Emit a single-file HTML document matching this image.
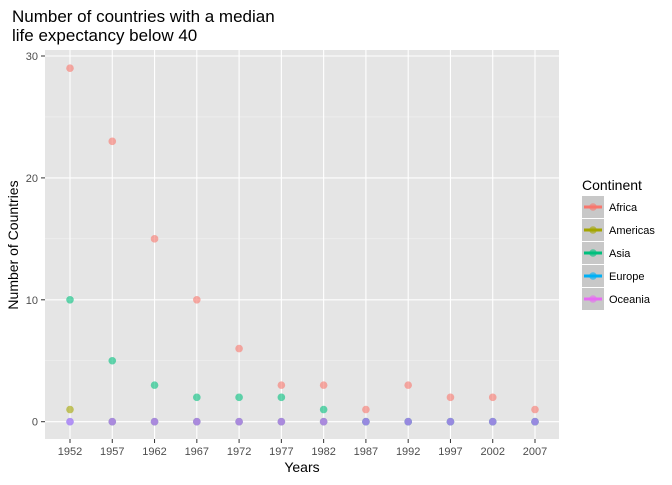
<!DOCTYPE html>
<html><head><meta charset="utf-8"><style>
body{margin:0;background:#fff;font-family:"Liberation Sans",Arial,sans-serif}
</style></head><body>
<svg width="672" height="480" xmlns="http://www.w3.org/2000/svg">
<text x="12" y="22" font-size="17" fill="#000">Number of countries with a median</text>
<text x="12" y="41" font-size="17" fill="#000">life expectancy below 40</text>
<rect x="45" y="50" width="514" height="389" fill="#e5e5e5"/>
<g id="grid"></g><g id="pts"></g><g id="axes"></g>
<text x="302" y="472" font-size="14" text-anchor="middle">Years</text>
<text transform="translate(18,245) rotate(-90)" font-size="14" text-anchor="middle">Number of Countries</text>
<g>
<text x="582" y="190" font-size="14">Continent</text>
<g id="leg"></g></g>
</svg>
<script>
const years=[1952,1957,1962,1967,1972,1977,1982,1987,1992,1997,2002,2007];
const continents=["Africa","Americas","Asia","Europe","Oceania"];
const colors=["#F8766D","#A3A500","#00BF7D","#00B0F6","#E76BF3"];
const africa=[29,23,15,10,6,3,3,1,3,2,2,1];
const americas=[1,0,0,0,0,0,0,0,0,0,0,0];
const asia=[10,5,3,2,2,2,1,0,0,0,0,0];
const europe=[0,0,0,0,0,0,0,0,0,0,0,0];
const oceania=[0,0,0,0,0,0,0,0,0,0,0,0];
const yTicks=[0,10,20,30];
const series=[africa,americas,asia,europe,oceania];
const NS="http://www.w3.org/2000/svg";
const X=y=>70+(y-1952)*(465/55);
const Y=v=>421.7-v*12.19;
function mk(t,a,p){const e=document.createElementNS(NS,t);for(const k in a)e.setAttribute(k,a[k]);p.appendChild(e);return e;}
const g=document.getElementById('grid'),ax=document.getElementById('axes'),pts=document.getElementById('pts');
[5,15,25].forEach(v=>{const l=mk('line',{x1:45,x2:559,y1:Y(v),y2:Y(v),stroke:'#f2f2f2','stroke-width':0.6},g);

});
yTicks.forEach(v=>{const l=mk('line',{x1:45,x2:559,y1:Y(v),y2:Y(v),stroke:'#fff','stroke-width':1.1},g);


mk('line',{x1:41,x2:45,y1:Y(v),y2:Y(v),stroke:'#333'},ax);
const t=mk('text',{x:38,y:Y(v)+4,'font-size':11,'text-anchor':'end',fill:'#4d4d4d'},ax);t.textContent=v;

});
years.forEach(yr=>{const l=mk('line',{x1:X(yr),x2:X(yr),y1:50,y2:439,stroke:'#fff','stroke-width':1.1},g);


mk('line',{x1:X(yr),x2:X(yr),y1:439,y2:443,stroke:'#333'},ax);
const t=mk('text',{x:X(yr),y:455,'font-size':11,'text-anchor':'middle',fill:'#4d4d4d'},ax);t.textContent=yr;

});
series.forEach((s,i)=>s.forEach((v,j)=>{const c=mk('circle',{cx:X(years[j]),cy:Y(v),r:3.8,fill:colors[i],'fill-opacity':0.6},pts);

}));
const lg=document.getElementById('leg');
continents.forEach((c,i)=>{const y0=196+i*23;
const k=mk('g',{},lg);


mk('rect',{x:582,y:y0,width:22,height:22,fill:'#c8c8c8'},k);
mk('line',{x1:584,x2:602,y1:y0+11,y2:y0+11,stroke:colors[i],'stroke-width':3},k);
mk('circle',{cx:593,cy:y0+11,r:3.8,fill:colors[i],'fill-opacity':0.6},k);
const t=mk('text',{x:609,y:y0+15,'font-size':11},k);t.textContent=c;});
</script>
</body></html>
